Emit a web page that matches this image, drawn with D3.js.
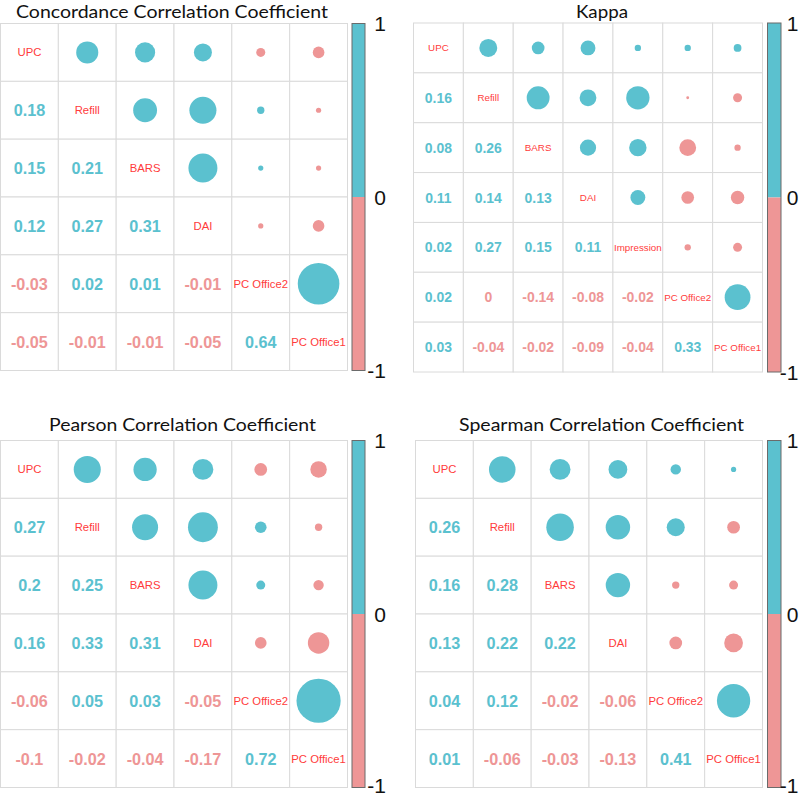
<!DOCTYPE html>
<html>
<head>
<meta charset="utf-8">
<script src="https://cdn.jsdelivr.net/npm/d3@7"></script>
<style>
  html, body { margin: 0; padding: 0; background: #fff; }
  svg { display: block; }
</style>
</head>
<body>
<svg id="chart" width="800" height="797"></svg>
<script>
// ---------------- DATA ----------------
const cccTitle = "Concordance Correlation Coefficient";
const cccVars = ["UPC", "Refill", "BARS", "DAI", "PC Office2", "PC Office1"];
const cccLower = [
  [],
  [0.18],
  [0.15, 0.21],
  [0.12, 0.27, 0.31],
  [-0.03, 0.02, 0.01, -0.01],
  [-0.05, -0.01, -0.01, -0.05, 0.64]
];

const kappaTitle = "Kappa";
const kappaVars = ["UPC", "Refill", "BARS", "DAI", "Impression", "PC Office2", "PC Office1"];
const kappaLower = [
  [],
  [0.16],
  [0.08, 0.26],
  [0.11, 0.14, 0.13],
  [0.02, 0.27, 0.15, 0.11],
  [0.02, -0.004, -0.14, -0.08, -0.02],
  [0.03, -0.04, -0.02, -0.09, -0.04, 0.33]
];

const pearsonTitle = "Pearson Correlation Coefficient";
const pearsonVars = ["UPC", "Refill", "BARS", "DAI", "PC Office2", "PC Office1"];
const pearsonLower = [
  [],
  [0.27],
  [0.2, 0.25],
  [0.16, 0.33, 0.31],
  [-0.06, 0.05, 0.03, -0.05],
  [-0.1, -0.02, -0.04, -0.17, 0.72]
];

const spearmanTitle = "Spearman Correlation Coefficient";
const spearmanVars = ["UPC", "Refill", "BARS", "DAI", "PC Office2", "PC Office1"];
const spearmanLower = [
  [],
  [0.26],
  [0.16, 0.28],
  [0.13, 0.22, 0.22],
  [0.04, 0.12, -0.02, -0.06],
  [0.01, -0.06, -0.03, -0.13, 0.41]
];

const legendTicks = [1, 0, -1];

// ---------------- STYLE / LAYOUT ----------------
const TEAL = "#5bc1cf";
const PINK = "#ee9696";
const LABEL_RED = "#ff3b3b";
const GRID = "#dadada";
const H = 797;

const panels = [
  { title: cccTitle, vars: cccVars, lower: cccLower,
    x0: 0.5, y0: 23.5, size: 347, cbX: 352, cbW: 13, tickX: 386,
    titleX: 172, titleY: 17.5, titleW: 312 },
  { title: kappaTitle, vars: kappaVars, lower: kappaLower,
    x0: 413.5, y0: 23, size: 349, cbX: 767.5, cbW: 13.5, tickX: 798.5,
    titleX: 602, titleY: 17.5, titleW: 52 },
  { title: pearsonTitle, vars: pearsonVars, lower: pearsonLower,
    x0: 0.5, y0: 440.5, size: 347, cbX: 352, cbW: 13, tickX: 386,
    titleX: 182.5, titleY: 430.5, titleW: 267 },
  { title: spearmanTitle, vars: spearmanVars, lower: spearmanLower,
    x0: 415.5, y0: 440.5, size: 347, cbX: 767.5, cbW: 13.5, tickX: 798.5,
    titleX: 601.5, titleY: 430.5, titleW: 285 }
];

const svg = d3.select("#chart");

const fmt = v => {
  const r = Math.round(v * 100) / 100;
  return String(r === 0 ? 0 : r);
};

panels.forEach(p => {
  const g = svg.append("g");
  const x = d3.scaleBand().domain(p.vars).range([p.x0, p.x0 + p.size]);
  const y = d3.scaleBand().domain(p.vars).range([p.y0, p.y0 + p.size]);
  const bw = x.bandwidth();
  const rScale = d3.scaleSqrt().domain([0, 1]).range([0, 0.45 * bw]);
  const color = d3.scaleThreshold().domain([0]).range([PINK, TEAL]);

  const cells = [];
  p.vars.forEach((rv, i) => {
    p.vars.forEach((cv, j) => {
      let v = null;
      if (i > j) v = p.lower[i][j];
      else if (j > i) v = p.lower[j][i];
      cells.push({ row: rv, col: cv, i, j, v });
    });
  });

  // grid
  g.selectAll("rect.cell").data(cells).join("rect")
    .attr("class", "cell")
    .attr("x", d => x(d.col)).attr("y", d => y(d.row))
    .attr("width", bw).attr("height", y.bandwidth())
    .attr("fill", "#fff").attr("stroke", GRID).attr("stroke-width", 1);

  // upper triangle: circles
  g.selectAll("circle.c").data(cells.filter(d => d.j > d.i)).join("circle")
    .attr("class", "c")
    .attr("cx", d => x(d.col) + bw / 2)
    .attr("cy", d => y(d.row) + y.bandwidth() / 2)
    .attr("r", d => rScale(Math.abs(d.v)))
    .attr("fill", d => color(d.v));

  // lower triangle: numbers
  g.selectAll("text.num").data(cells.filter(d => d.i > d.j)).join("text")
    .attr("class", "num")
    .attr("x", d => x(d.col) + bw / 2)
    .attr("y", d => y(d.row) + y.bandwidth() / 2)
    .attr("text-anchor", "middle")
    .attr("dominant-baseline", "central")
    .attr("font-family", "'Liberation Sans', Arial, sans-serif")
    .attr("font-weight", "bold")
    .attr("font-size", (bw * 0.28).toFixed(2) + "px")
    .attr("fill", d => color(d.v))
    .text(d => fmt(d.v));

  // diagonal labels
  g.selectAll("text.lab").data(cells.filter(d => d.i === d.j)).join("text")
    .attr("class", "lab")
    .attr("x", d => x(d.col) + bw / 2)
    .attr("y", d => y(d.row) + y.bandwidth() / 2)
    .attr("text-anchor", "middle")
    .attr("dominant-baseline", "central")
    .attr("font-family", "'Liberation Sans', Arial, sans-serif")
    .attr("font-size", (bw * 0.196).toFixed(2) + "px")
    .attr("fill", LABEL_RED)
    .text(d => d.row);

  // colour bar
  const cb = d3.scaleLinear().domain([-1, 1]).range([p.y0 + p.size, p.y0]);
  const segs = [{ a: 0, b: 1, c: TEAL }, { a: -1, b: 0, c: PINK }];
  g.selectAll("rect.seg").data(segs).join("rect")
    .attr("class", "seg")
    .attr("x", p.cbX).attr("width", p.cbW)
    .attr("y", d => cb(d.b)).attr("height", d => cb(d.a) - cb(d.b))
    .attr("fill", d => d.c);
  g.append("rect")
    .attr("x", p.cbX).attr("y", cb(1)).attr("width", p.cbW).attr("height", cb(-1) - cb(1))
    .attr("fill", "none").attr("stroke", "#6b6b6b").attr("stroke-width", 1);

  g.selectAll("text.tick").data(legendTicks).join("text")
    .attr("class", "tick")
    .attr("x", p.tickX)
    .attr("y", d => Math.min(cb(d), H - 12))
    .attr("text-anchor", "end")
    .attr("dominant-baseline", "central")
    .attr("font-family", "'Liberation Sans', Arial, sans-serif")
    .attr("font-size", "21px")
    .attr("fill", "#111")
    .text(d => String(d));

  // title
  g.append("text")
    .attr("x", p.titleX).attr("y", p.titleY)
    .attr("text-anchor", "middle")
    .attr("font-family", "Lato, 'Open Sans', sans-serif")
    .attr("font-size", "18px")
    .attr("fill", "#111")
    .attr("textLength", p.titleW)
    .attr("lengthAdjust", "spacingAndGlyphs")
    .text(p.title);
});
</script>
</body>
</html>
